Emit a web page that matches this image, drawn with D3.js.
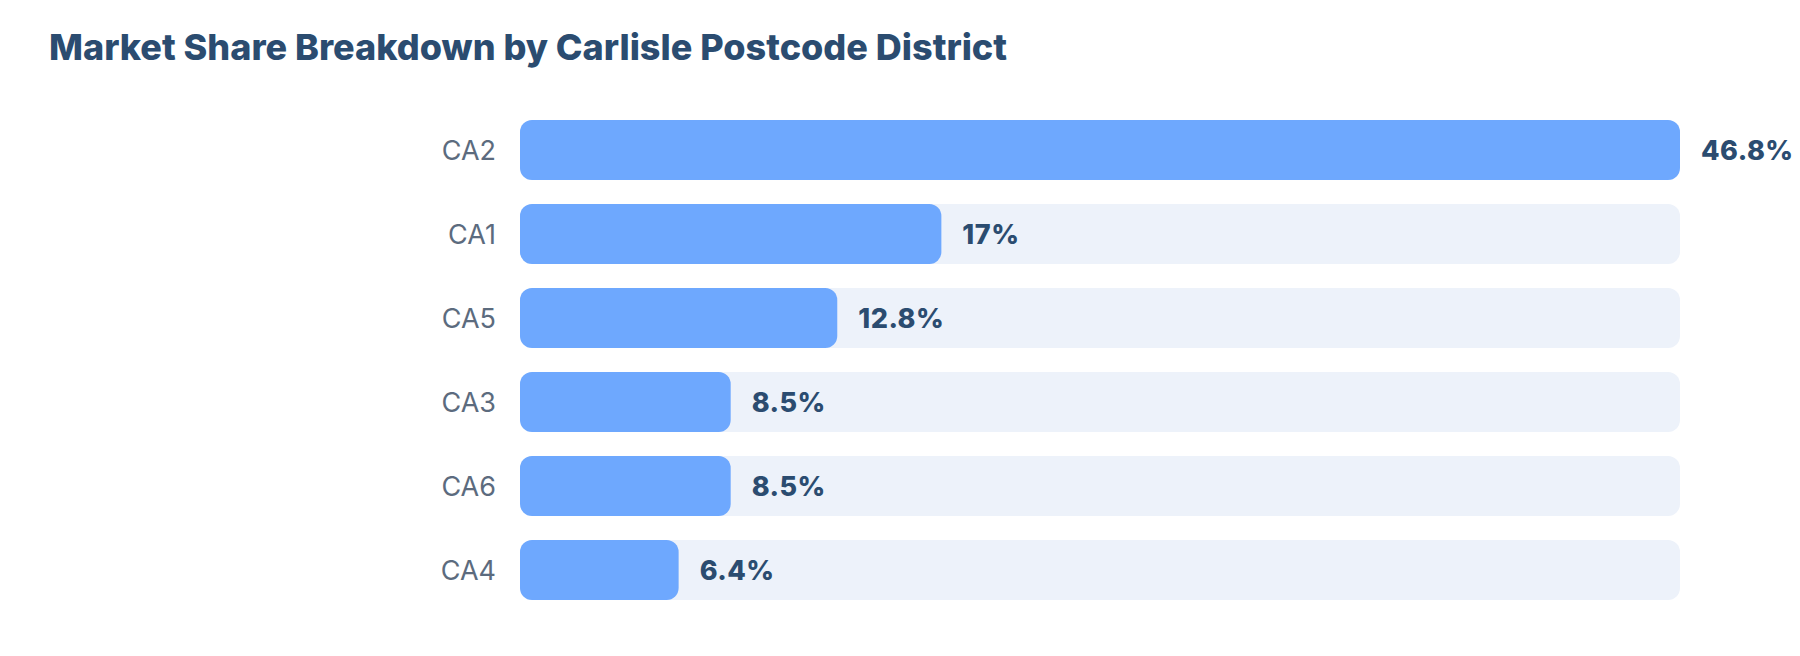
<!DOCTYPE html>
<html>
<head>
<meta charset="utf-8">
<script src="https://cdn.jsdelivr.net/npm/d3@7"></script>
<style>
  body { margin: 0; background: #fff; font-family: Inter, "Noto Sans", sans-serif; }
</style>
</head>
<body>
<div class="chart"></div>
<script>
var districts = ["CA2", "CA1", "CA5", "CA3", "CA6", "CA4"];
var shares = [46.8, 17, 12.8, 8.5, 8.5, 6.4];
var title = "Market Share Breakdown by Carlisle Postcode District";

function init() {
    var w = 1800;
    var h = 656;
    var left = 520, right = 1680;

    var data = districts.map(function(d, i) { return { name: d, value: shares[i] }; });

    var svg = d3.select(".chart")
        .append("svg")
        .attr("width", w)
        .attr("height", h);

    svg.append("text")
        .attr("x", 49)
        .attr("y", 60)
        .attr("fill", "#2b4c70")
        .style("font-size", "36px")
        .style("font-weight", 800)
        .text(title);

    var x = d3.scaleLinear()
        .domain([0, d3.max(shares)])
        .range([left, right]);

    var y = d3.scaleBand()
        .domain(districts)
        .range([120, 600])
        .paddingInner(24 / 84)
        .paddingOuter(0);

    var rows = svg.selectAll("g.row")
        .data(data)
        .enter()
        .append("g")
        .attr("class", "row")
        .attr("transform", function(d) { return "translate(0," + y(d.name) + ")"; });

    // background track
    rows.append("rect")
        .attr("x", x(0))
        .attr("width", right - left)
        .attr("height", y.bandwidth())
        .attr("rx", 12)
        .attr("fill", "#edf2fa");

    rows.append("rect")
        .attr("x", x(0))
        .attr("width", function(d) { return x(d.value) - x(0); })
        .attr("height", y.bandwidth())
        .attr("rx", 12)
        .attr("fill", "#6ea8fe");

    rows.append("text")
        .attr("x", left - 24)
        .attr("y", y.bandwidth() / 2)
        .attr("dy", "0.36em")
        .attr("text-anchor", "end")
        .attr("fill", "#5c6b7e")
        .style("font-size", "27px")
        .text(function(d) { return d.name; });

    rows.append("text")
        .attr("x", function(d) { return x(d.value) + 21; })
        .attr("y", y.bandwidth() / 2)
        .attr("dy", "0.36em")
        .attr("fill", "#2b4c70")
        .style("font-size", "27px")
        .style("font-weight", 800)
        .style("letter-spacing", "0.5px")
        .text(function(d) { return d.value + "%"; });
}

init()
</script>
</body>
</html>
